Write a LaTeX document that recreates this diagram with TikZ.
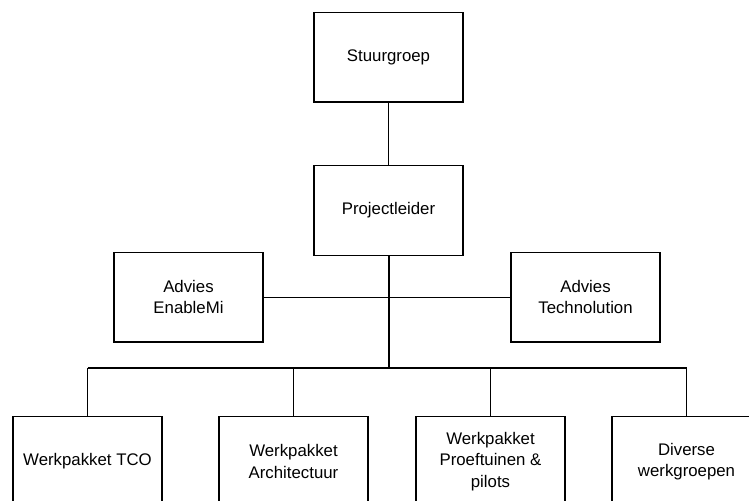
\documentclass[tikz,border=0pt]{standalone}
\usepackage{fontspec}
\setmainfont{Liberation Sans}
\begin{document}
\begin{tikzpicture}[x=1bp,y=-1bp,
  orgbox/.style={draw, line width=1.3bp, minimum width=149bp, minimum height=89.5bp,
    align=center, inner sep=2bp, font=\fontsize{16.8bp}{21.3bp}\selectfont},
  link/.style={line width=1.3bp},
  trunk/.style={line width=2bp}]
\clip (0,0) rectangle (749,501);
\useasboundingbox (0,0) rectangle (749,501);
\node[orgbox] (stuur) at (388.5,57.3) {Stuurgroep};
\node[orgbox] (proj) at (388.5,210.5) {Projectleider};
\node[orgbox] (enab) at (188.5,297.3) {Advies\\EnableMi};
\node[orgbox] (tech) at (585.5,297.3) {Advies\\Technolution};
\node[orgbox] (tco) at (87.5,461.5) {Werkpakket TCO};
\node[orgbox] (arch) at (293.5,461.5) {Werkpakket\\Architectuur};
\node[orgbox] (proef) at (490.5,461.5) {Werkpakket\\Proeftuinen \&\\pilots};
\node[orgbox] (div) at (686.5,461.5) {Diverse\\werkgroepen};
\coordinate (bus) at (388.5,368);
\coordinate (busL) at (87.5,368);
\coordinate (busR) at (686.5,368);
\draw[link] (stuur.south) -- (proj.north);
\draw[link] (enab.east) -- (tech.west);
\draw[trunk] (proj.south) -- (bus);
\draw[link] (busL) -- (busR);
\draw[link] (busL) -- (tco.north);
\draw[link] (arch.north |- bus) -- (arch.north);
\draw[link] (proef.north |- bus) -- (proef.north);
\draw[link] (busR) -- (div.north);
\end{tikzpicture}
\end{document}
